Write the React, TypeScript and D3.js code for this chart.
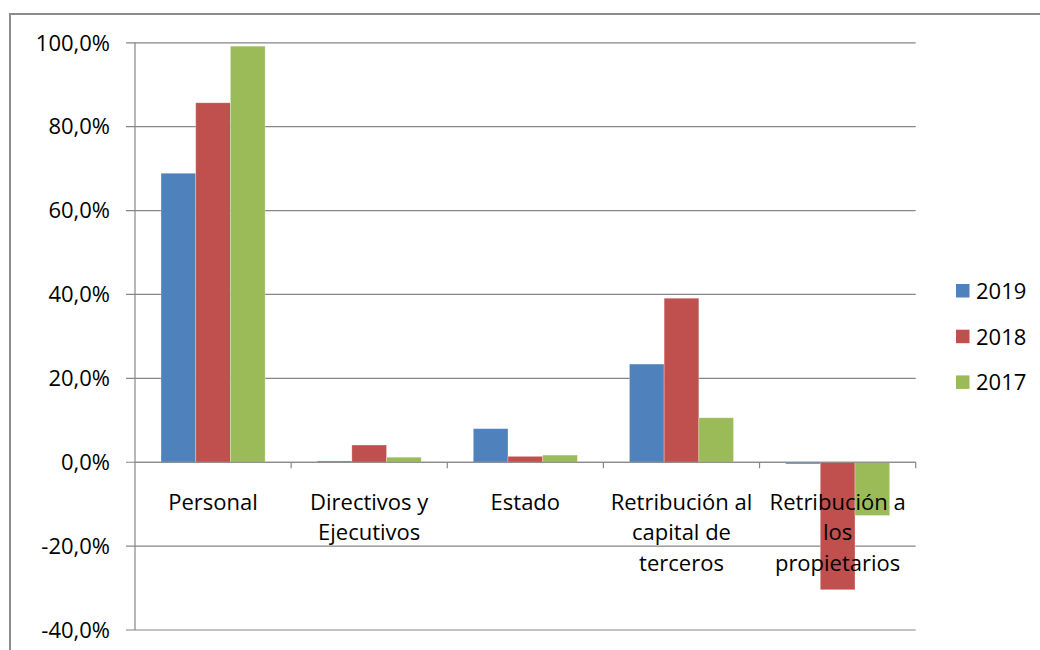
import * as React from 'react';
import { scaleBand, scaleLinear, range } from 'd3';

const categories = ['Personal', 'Directivos y Ejecutivos', 'Estado', 'Retribución al capital de terceros', 'Retribución a los propietarios'];
const categoryLines = [
    ['Personal'],
    ['Directivos y', 'Ejecutivos'],
    ['Estado'],
    ['Retribución al', 'capital de', 'terceros'],
    ['Retribución a', 'los', 'propietarios'],
];
const seriesNames = ['2019', '2018', '2017'];
const seriesColors = ['#4F81BD', '#C0504D', '#9BBB59'];
const values2019 = [68.9, 0.3, 8.0, 23.4, -0.4];
const values2018 = [85.7, 4.1, 1.4, 39.1, -30.4];
const values2017 = [99.2, 1.2, 1.7, 10.6, -12.7];
const yTicks = range(-40, 101, 20);

const margin = { top: 42.8, right: 124.3, bottom: 20, left: 135 };
const width = 1040;
const height = 650;
const font = '"Open Sans", sans-serif';

export default function App() {
    const allValues = [values2019, values2018, values2017];
    const plotBottom = 630;

    const x0 = scaleBand<string>().domain(categories).range([margin.left, width - margin.right]).padding(0);
    const x1 = scaleBand<string>().domain(seriesNames).range([0, x0.bandwidth()]).paddingInner(0).paddingOuter(0.75);
    const y = scaleLinear().domain([-40, 100]).range([plotBottom, margin.top]);
    const fmt = (v: number) => `${v.toFixed(1).replace('.', ',')}%`;

    const plotRight = width - margin.right;
    const zero = y(0);

    return (
        <svg width={width} height={height} style={{ position: 'absolute', left: 0, top: 0 }}>
            <rect x={0} y={0} width={width} height={height} fill="#fff" />
            {/* chart border, runs off the right and bottom edges */}
            <rect x={10} y={14} width={width + 20} height={height + 20} fill="none" stroke="#8c8c8c" strokeWidth={2} />

            {/* gridlines and y ticks */}
            {yTicks.map((t) => (
                <g key={t}>
                    <line x1={margin.left - 9} x2={plotRight} y1={y(t)} y2={y(t)} stroke="#868686" strokeWidth={1.2} />
                    <text x={110} y={y(t)} dy="0.35em" textAnchor="end" fontFamily={font} fontSize={22} fill="#000">{fmt(t)}</text>
                </g>
            ))}
            <line x1={margin.left} x2={margin.left} y1={margin.top} y2={plotBottom} stroke="#868686" strokeWidth={1.2} />

            {/* bars */}
            {categories.map((c, ci) => (
                <g key={c} transform={`translate(${x0(c)},0)`}>
                    {seriesNames.map((s, si) => {
                        const v = allValues[si][ci];
                        const top = Math.min(y(v), zero);
                        const h = Math.abs(y(v) - zero);
                        return (
                            <rect key={s} x={x1(s)} y={top} width={x1.bandwidth()} height={h}
                                fill={seriesColors[si]} stroke="rgba(255,255,255,0.35)" strokeWidth={0.8} />
                        );
                    })}
                </g>
            ))}

            {/* x axis with tick marks between categories */}
            <line x1={margin.left} x2={plotRight} y1={zero} y2={zero} stroke="#868686" strokeWidth={1.2} />
            {categories.map((c) => (
                <line key={c} x1={(x0(c) as number) + x0.bandwidth()} x2={(x0(c) as number) + x0.bandwidth()}
                    y1={zero} y2={zero + 6} stroke="#868686" strokeWidth={1.2} />
            ))}

            {/* category labels */}
            {categories.map((c, ci) => (
                <text key={c} x={(x0(c) as number) + x0.bandwidth() / 2} y={509.5} textAnchor="middle"
                    fontFamily={font} fontSize={22} fill="#000">
                    {categoryLines[ci].map((ln, li) => (
                        <tspan key={li} x={(x0(c) as number) + x0.bandwidth() / 2} dy={li === 0 ? 0 : 30.7}>{ln}</tspan>
                    ))}
                </text>
            ))}

            {/* legend */}
            {seriesNames.map((s, si) => (
                <g key={s} transform={`translate(956,${284 + si * 45.7})`}>
                    <rect x={0} y={0} width={13.5} height={13.5} fill={seriesColors[si]} />
                    <text x={20} y={7} dy="0.36em" fontFamily={font} fontSize={22} fill="#000">{s}</text>
                </g>
            ))}
        </svg>
    );
}
